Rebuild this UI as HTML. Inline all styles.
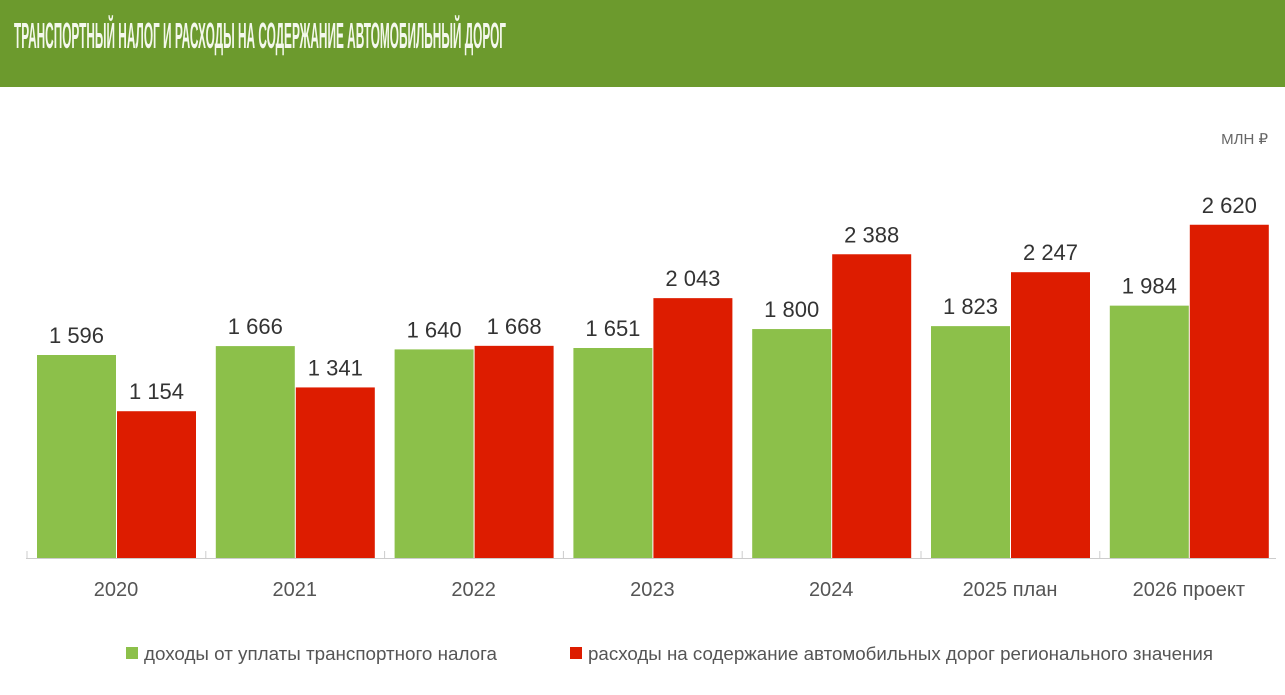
<!DOCTYPE html>
<html><head><meta charset="utf-8"><style>
body{margin:0;background:#fff;width:1285px;height:695px;overflow:hidden}
svg{display:block;font-family:"Liberation Sans",sans-serif}
</style></head><body>
<svg id="chart" width="1285" height="695" xmlns="http://www.w3.org/2000/svg">
<rect x="0" y="0" width="1285" height="87" fill="#6c9a2d"/>
<text x="14" y="48" font-family="'Liberation Sans Narrow','Liberation Sans',sans-serif" font-weight="bold" font-size="36" fill="#f4f8ec" textLength="492" lengthAdjust="spacingAndGlyphs">ТРАНСПОРТНЫЙ НАЛОГ И РАСХОДЫ НА СОДЕРЖАНИЕ АВТОМОБИЛЬНЫЙ ДОРОГ</text>
<text x="1268" y="144" text-anchor="end" font-size="15" fill="#666">МЛН ₽</text>
<line x1="26" y1="558.5" x2="1276" y2="558.5" stroke="#ccc" stroke-width="1"/>
<g id="bars"></g>
<g>
<rect x="126" y="647" width="12" height="12" fill="#8cc04a"/>
<text x="144" y="660" font-size="18" fill="#555" textLength="353" lengthAdjust="spacingAndGlyphs">доходы от уплаты транспортного налога</text>
<rect x="570" y="647" width="12" height="12" fill="#dd1c00"/>
<text x="588" y="660" font-size="18" fill="#555" textLength="625" lengthAdjust="spacingAndGlyphs">расходы на содержание автомобильных дорог регионального значения</text>
</g>
</svg>
<script>
const categories = ["2020","2021","2022","2023","2024","2025 план","2026 проект"];
const income = [1596,1666,1640,1651,1800,1823,1984];
const expense = [1154,1341,1668,2043,2388,2247,2620];
const NS="http://www.w3.org/2000/svg";
const base=558, scale=203/1596, x0=37, pitch=178.8, bw=79;
const y=v=>base-v*scale;
const fmt=v=>{const s=String(v);return s.length>3?s.slice(0,-3)+" "+s.slice(-3):s;};
const g=document.getElementById('bars');
function mk(tag,attrs){const e=document.createElementNS(NS,tag);for(const k in attrs)e.setAttribute(k,attrs[k]);g.appendChild(e);return e;}
categories.forEach((c,i)=>{
  const gx=x0+i*pitch, rx=gx+bw+1;
  const t=mk('line',{x1:gx-10,y1:551,x2:gx-10,y2:558,stroke:'#ccc'});
  
  
  const b1=mk('rect',{x:gx,y:y(income[i]),width:bw,height:income[i]*scale,fill:'#8cc04a'});
  
  
  const b2=mk('rect',{x:rx,y:y(expense[i]),width:bw,height:expense[i]*scale,fill:'#dd1c00'});
  
  
  const l1=mk('text',{x:gx+bw/2,y:y(income[i])-12,'text-anchor':'middle','font-size':22,fill:'#333'});
  l1.textContent=fmt(income[i]);
  
  
  const l2=mk('text',{x:rx+bw/2,y:y(expense[i])-12,'text-anchor':'middle','font-size':22,fill:'#333'});
  l2.textContent=fmt(expense[i]);
  
  
  const cl=mk('text',{x:gx+bw,y:596,'text-anchor':'middle','font-size':20,fill:'#555'});
  cl.textContent=c;
  
  
});
</script>
</body></html>
